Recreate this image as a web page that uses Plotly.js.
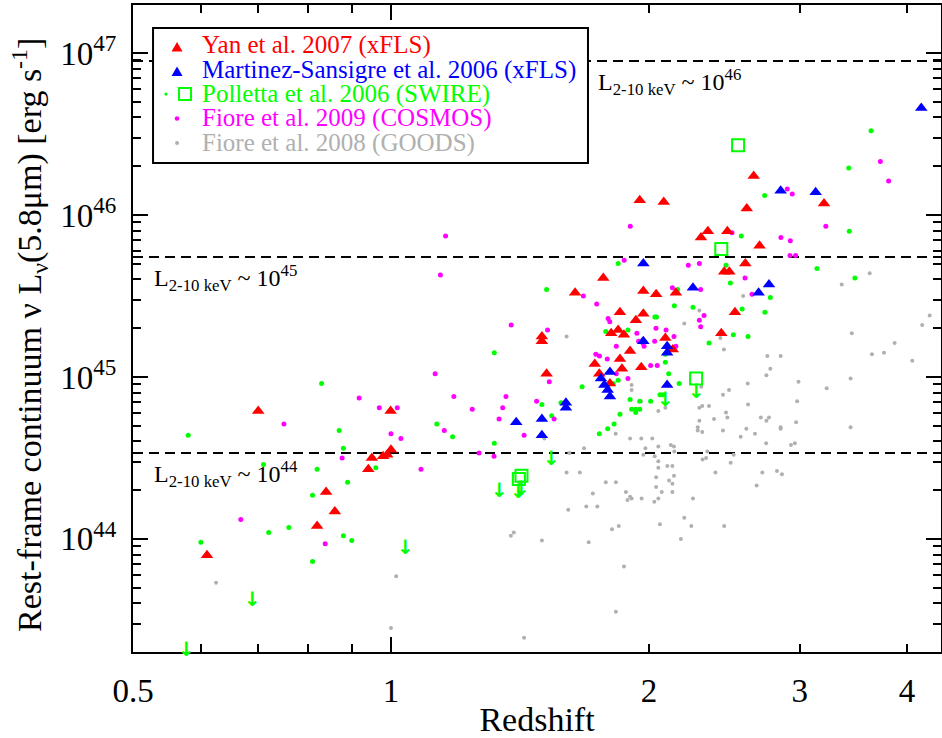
<!DOCTYPE html>
<html>
<head>
<meta charset="utf-8">
<script src="https://cdn.plot.ly/plotly-3.0.1.min.js"></script>
<style>html,body{margin:0;padding:0;background:#fff;}#chart{width:942px;height:738px;}</style>
</head>
<body>
<div id="chart"></div>
<script>
// ---------- DATA (redshift z, log10 of rest-frame nuLnu(5.8um) in erg/s) ----------
const yanZ = [0.610,0.700,0.820,0.840,0.860,0.941,0.950,0.979,0.990,1.000,0.999,1.500,1.500,1.519,1.640,1.769,1.729,1.750,1.801,1.850,1.860,1.959,1.901,2.132,2.090,1.807,1.841,1.870,1.931,1.850,1.970,1.970,2.039,2.150,1.951,2.081,2.300,2.343,2.469,2.448,2.482,2.429,2.520,2.591,2.601,2.650,2.692,3.201];
const yanLogL = [43.90,44.79,44.08,44.29,44.17,44.43,44.50,44.51,44.52,44.55,44.79,45.25,45.22,45.02,45.52,45.61,45.08,45.02,44.96,45.11,45.05,45.06,45.16,45.17,45.24,45.27,45.29,45.26,45.35,45.40,45.39,45.53,45.51,45.52,46.09,46.08,45.86,45.90,45.90,45.65,45.65,45.27,45.40,45.70,46.04,46.24,45.81,46.07];

const msZ = [1.400,1.500,1.500,1.600,1.600,1.758,1.774,1.790,1.801,1.801,1.970,1.970,2.100,2.100,2.100,2.251,2.685,2.761,2.849,3.130,4.157];
const msLogL = [44.72,44.74,44.64,44.84,44.81,44.99,44.95,44.92,44.88,45.03,45.22,45.70,45.19,45.15,44.95,45.55,45.52,45.57,46.15,46.14,46.66];

const pollZ = [0.580,0.600,0.710,0.720,0.760,0.810,0.810,0.820,0.830,0.870,0.880,0.880,0.890,0.900,0.960,1.131,1.180,1.320,1.320,1.500,1.519,1.540,1.579,1.671,1.750,1.790,1.821,1.850,1.817,1.841,1.781,1.841,1.890,1.901,1.909,1.930,1.951,1.930,1.951,2.009,2.032,2.041,2.060,2.075,2.090,2.090,2.109,2.141,2.160,2.169,2.251,2.350,2.460,2.489,2.509,2.563,2.569,2.610,2.729,2.731,2.771,3.141,3.421,3.426,3.478,3.632];
const pollLogL = [44.64,43.98,44.46,44.04,44.07,44.27,43.86,44.43,44.96,44.67,44.56,44.02,44.35,43.99,44.44,44.71,44.63,45.15,44.59,44.83,45.54,44.76,44.84,44.94,44.65,44.68,44.71,44.77,44.96,44.98,45.28,45.70,45.29,44.86,44.80,44.80,44.80,44.78,44.85,44.85,45.37,45.37,44.89,44.89,45.14,45.09,45.02,45.44,45.54,44.96,45.43,45.21,45.69,45.58,45.26,45.87,45.42,45.25,46.12,45.40,45.49,45.67,46.29,45.90,45.61,46.52];
// Polletta upper limits (arrows only)
const pollLimZ = [0.578,0.690,1.040,1.340,1.540,2.090];
const pollLimLogL = [43.39,43.70,44.02,44.37,44.57,44.93];
// Polletta open squares (detections) and open squares with upper-limit arrows
const pollSqZ = [2.541,2.429];
const pollSqLogL = [46.43,45.79];
const pollSqLimZ = [2.270,1.410,1.420];
const pollSqLimLogL = [44.99,44.37,44.39];

const fiore09Z = [0.668,0.750,0.838,0.877,0.918,0.969,1.000,1.017,1.027,1.084,1.126,1.142,1.154,1.158,1.184,1.244,1.267,1.319,1.337,1.350,1.362,1.381,1.430,1.479,1.523,1.530,1.550,1.677,1.738,1.734,1.751,1.788,1.792,1.800,1.832,1.832,1.871,1.890,1.902,1.936,1.945,1.968,1.968,1.974,2.009,2.031,2.038,2.045,2.094,2.130,2.139,2.150,2.223,2.290,2.298,2.290,2.298,2.319,2.500,2.589,2.638,2.851,2.900,2.924,2.921,2.939,2.966,3.217,3.724,3.808];
const fiore09LogL = [44.12,44.71,43.97,44.50,44.87,44.81,44.65,44.81,44.62,44.43,45.02,45.63,44.67,45.87,44.88,44.80,44.53,44.51,44.74,44.81,44.88,45.32,44.64,44.85,45.29,44.97,44.74,45.50,45.45,45.14,45.13,45.11,45.36,45.34,45.19,45.02,45.72,44.99,45.93,45.27,45.22,45.23,45.21,45.19,45.07,45.22,45.30,45.07,45.29,45.55,45.25,45.19,45.69,45.70,45.54,45.35,45.31,45.38,45.89,45.61,45.51,45.86,46.16,45.84,45.75,46.13,45.75,45.93,46.33,46.21];

const fiore08Z = [0.625,1.014,1.000,1.603,1.680,1.615,1.603,1.661,1.720,1.610,1.690,1.741,1.412,1.380,1.391,1.500,1.701,1.430,1.510,2.199,2.290,2.446,2.576,2.608,2.480,2.440,1.909,1.909,1.958,3.449,3.870,3.641,3.761,4.058,2.749,2.849,2.771,2.742,2.423,3.438,3.224,2.989,2.302,2.978,2.610,2.290,2.308,2.350,2.460,2.469,2.382,2.290,2.701,2.761,2.742,2.970,2.849,2.849,3.438,2.280,2.280,2.308,2.440,2.598,2.659,2.559,2.740,2.960,2.929,1.829,1.901,1.959,2.018,2.051,1.981,2.121,2.139,2.141,2.340,1.970,2.031,2.332,2.310,2.511,2.491,2.051,2.101,2.130,2.051,2.391,2.712,2.821,2.859,2.139,2.039,2.111,2.130,1.781,1.830,2.671,2.039,1.880,2.070,2.130,1.901,1.909,1.888,1.961,2.051,2.029,2.251,2.199,2.060,2.241,2.448,1.844,1.811,2.179,1.870,1.830,2.051,2.090,3.619,3.357,4.252,4.167];
const fiore08LogL = [43.73,43.77,43.45,45.25,44.56,44.53,44.41,44.41,44.28,44.18,44.20,44.20,44.35,44.02,44.04,43.99,43.98,43.39,44.62,45.33,45.41,45.17,45.50,44.96,44.92,44.89,44.95,44.92,44.85,45.27,45.21,45.14,45.15,45.10,45.13,45.13,45.05,45.01,45.24,44.99,44.93,44.97,44.94,44.85,44.83,44.81,44.82,44.82,44.78,44.75,44.74,44.73,44.75,44.75,44.73,44.72,44.69,44.68,44.69,44.69,44.67,44.66,44.67,44.68,44.65,44.63,44.59,44.59,44.58,44.65,44.62,44.62,44.62,44.57,44.56,44.58,44.57,44.54,44.54,44.52,44.51,44.50,44.49,44.52,44.47,44.48,44.45,44.45,44.44,44.41,44.41,44.42,44.40,44.39,44.38,44.36,44.34,44.35,44.35,44.33,44.32,44.29,44.29,44.29,44.26,44.25,44.24,44.25,44.25,44.23,44.25,44.13,44.09,44.08,44.08,44.08,44.06,44.00,43.83,43.55,44.79,44.81,45.64,45.57,45.38,45.32];

// horizontal reference levels (log10 L) and their labels
const refLogL = [46.95, 45.74, 44.53];
const refLabels = ['L<sub>2-10 keV</sub> ~ 10<sup>46</sup>', 'L<sub>2-10 keV</sub> ~ 10<sup>45</sup>', 'L<sub>2-10 keV</sub> ~ 10<sup>44</sup>'];

// axis ticks
const xTickVals = [0.5, 1, 2, 3, 4];
const xTickText = ['0.5', '1', '2', '3', '4'];
const xMinorVals = [0.6, 0.7, 0.8, 0.9];
const xLongTick = 1;
const yTickVals = [1e44, 1e45, 1e46, 1e47];
const yTickText = ['10<sup>44</sup>', '10<sup>45</sup>', '10<sup>46</sup>', '10<sup>47</sup>'];

// legend entries
const legendNames = ['Yan et al. 2007 (xFLS)', 'Martinez-Sansigre et al. 2006 (xFLS)', 'Polletta et al. 2006 (SWIRE)', 'Fiore et al. 2009 (COSMOS)', 'Fiore et al. 2008 (GOODS)'];
const legendColors = ['#FF0000', '#0000FF', '#00FF00', '#FF00FF', '#B0B0B0'];

// ---------- BUILD ----------
const pw = (arr) => arr.map(v => Math.pow(10, v));
const FONT = 'Liberation Serif, Times New Roman, Times, serif';

const traces = [
  {x: fiore08Z, y: pw(fiore08LogL), type:'scatter', mode:'markers', name: legendNames[4],
   marker:{symbol:'circle', size:4, color:'#B0B0B0', line:{width:0}}},
  {x: pollZ, y: pw(pollLogL), type:'scatter', mode:'markers', name: legendNames[2],
   marker:{symbol:'circle', size:5, color:'#00FF00', line:{width:0}}},
  {x: fiore09Z, y: pw(fiore09LogL), type:'scatter', mode:'markers', name: legendNames[3],
   marker:{symbol:'circle', size:5, color:'#FF00FF', line:{width:0}}},
  {x: pollSqZ.concat(pollSqLimZ), y: pw(pollSqLogL.concat(pollSqLimLogL)), type:'scatter', mode:'markers', name: legendNames[2] + ' (squares)',
   marker:{symbol:'square-open', size:12, color:'#00FF00', line:{width:2, color:'#00FF00'}}},
  {x: yanZ, y: pw(yanLogL), type:'scatter', mode:'markers', name: legendNames[0],
   marker:{symbol:'triangle-up', size:11, color:'#FF0000', line:{width:0}}},
  {x: msZ, y: pw(msLogL), type:'scatter', mode:'markers', name: legendNames[1],
   marker:{symbol:'triangle-up', size:11, color:'#0000FF', line:{width:0}}}
];

const annotations = [];
const shapes = [];

// upper-limit arrows (downward arrow glyph hanging from the limit value)
function addArrow(z, lg, shift){
  annotations.push({x: Math.log10(z), y: lg, xref:'x', yref:'y', text:'<b>↓</b>', showarrow:false,
    xanchor:'center', yanchor:'top', yshift:shift,
    font:{family:'DejaVu Sans', size:20, color:'#00FF00'}});
}
pollLimZ.forEach((z,i) => addArrow(z, pollLimLogL[i], 3));
pollSqLimZ.forEach((z,i) => addArrow(z, pollSqLimLogL[i], 2));

// dashed reference lines (shape positions on log axes are data values)
refLogL.forEach((lv) => {
  const L = Math.pow(10, lv);
  shapes.push({type:'line', xref:'paper', yref:'y', x0:0, x1:1, y0:L, y1:L, layer:'below',
    line:{color:'black', width:2, dash:'10px,6px'}});
});
const refLabelX = [0.5735, 0.0235, 0.0235];
refLogL.forEach((lv, i) => {
  annotations.push({xref:'paper', yref:'y', x: refLabelX[i], y: lv, xanchor:'left', yanchor:'top', yshift:-2,
    text: refLabels[i], showarrow:false, font:{family:FONT, size:24, color:'black'}});
});

// long major tick at z = 1 (bottom and top)
shapes.push({type:'line', xref:'x', x0:xLongTick, x1:xLongTick, yref:'paper', ysizemode:'pixel', yanchor:0, y0:0, y1:15, line:{color:'black', width:2}});
shapes.push({type:'line', xref:'x', x0:xLongTick, x1:xLongTick, yref:'paper', ysizemode:'pixel', yanchor:1, y0:0, y1:-15, line:{color:'black', width:2}});

// legend box
shapes.push({type:'rect', xref:'paper', yref:'paper', x0:0.0248, x1:0.5631, y0:0.7558, y1:0.9645, layer:'above',
  line:{color:'black', width:2}, fillcolor:'white'});
const rowY = [0.9382, 0.9003, 0.8624, 0.8246, 0.7867];
const textX = 0.0829, symX = 0.0545;
function triShape(x, y, color){
  return {type:'path', xref:'paper', yref:'paper', xsizemode:'pixel', ysizemode:'pixel', xanchor:x, yanchor:y,
    path:'M -5.5,-4.5 L 5.5,-4.5 L 0,5 Z', fillcolor:color, line:{width:0}, layer:'above'};
}
function dotShape(x, y, r, color){
  return {type:'circle', xref:'paper', yref:'paper', xsizemode:'pixel', ysizemode:'pixel', xanchor:x, yanchor:y,
    x0:-r, x1:r, y0:-r, y1:r, fillcolor:color, line:{width:0}, layer:'above'};
}
shapes.push(triShape(symX, rowY[0]-0.003, legendColors[0]));
shapes.push(triShape(symX, rowY[1]-0.003, legendColors[1]));
shapes.push(dotShape(0.0408, rowY[2], 1.6, legendColors[2]));
shapes.push({type:'rect', xref:'paper', yref:'paper', xsizemode:'pixel', ysizemode:'pixel', xanchor:0.0644, yanchor:rowY[2],
  x0:-6, x1:6, y0:-6, y1:6, line:{color:legendColors[2], width:2}, fillcolor:'rgba(0,0,0,0)', layer:'above'});
shapes.push(dotShape(symX, rowY[3], 2.3, legendColors[3]));
shapes.push(dotShape(symX, rowY[4], 2.0, legendColors[4]));
legendNames.forEach((nm, i) => {
  annotations.push({xref:'paper', yref:'paper', x:textX, y:rowY[i], xanchor:'left', yanchor:'middle',
    text: nm, showarrow:false, font:{family:FONT, size:25, color:legendColors[i]}});
});

// y-axis title
annotations.push({xref:'paper', yref:'paper', x:-0.1275, y:0.49, xanchor:'center', yanchor:'middle', textangle:-90,
  text:'Rest-frame continuum ν L<sub>ν</sub>(5.8μm) [erg s<sup>-1</sup>]', showarrow:false,
  font:{family:FONT, size:34, color:'black'}});

// minor ticks on y
const yMinorVals = [];
for (let d = 43; d <= 47; d++) for (let m = 2; m <= 9; m++) yMinorVals.push(m * Math.pow(10, d));

const axisCommon = {showline:true, linewidth:2, linecolor:'black', mirror:'allticks', showgrid:false, zeroline:false,
  ticks:'inside', tickwidth:2, tickcolor:'black', tickmode:'array'};

const layout = {
  width:942, height:738,
  margin:{l:133, r:1, t:5, b:86, pad:0},
  paper_bgcolor:'white', plot_bgcolor:'rgba(0,0,0,0)',
  font:{family:FONT, color:'black', size:33},
  showlegend:false,
  xaxis: Object.assign({}, axisCommon, {
    type:'log', range:[Math.log10(0.5), 0.6418],
    tickvals:xTickVals, ticktext:xTickText, ticklen:8, ticklabelstandoff:8,
    tickfont:{family:FONT, size:33, color:'black'},
    minor:{tickmode:'array', tickvals:xMinorVals, ticks:'inside', ticklen:8, tickwidth:2, tickcolor:'black', showgrid:false},
    title:{text:'Redshift', font:{family:FONT, size:34, color:'black'}, standoff:4}
  }),
  yaxis: Object.assign({}, axisCommon, {
    type:'log', range:[43.302, 47.296],
    tickvals:yTickVals, ticktext:yTickText, ticklen:15, ticklabelstandoff:8,
    tickfont:{family:FONT, size:33, color:'black'},
    minor:{tickmode:'array', tickvals:yMinorVals, ticks:'inside', ticklen:8, tickwidth:2, tickcolor:'black', showgrid:false}
  }),
  shapes: shapes,
  annotations: annotations
};

Plotly.newPlot('chart', traces, layout, {staticPlot:true, displayModeBar:false});
</script>
</body>
</html>
